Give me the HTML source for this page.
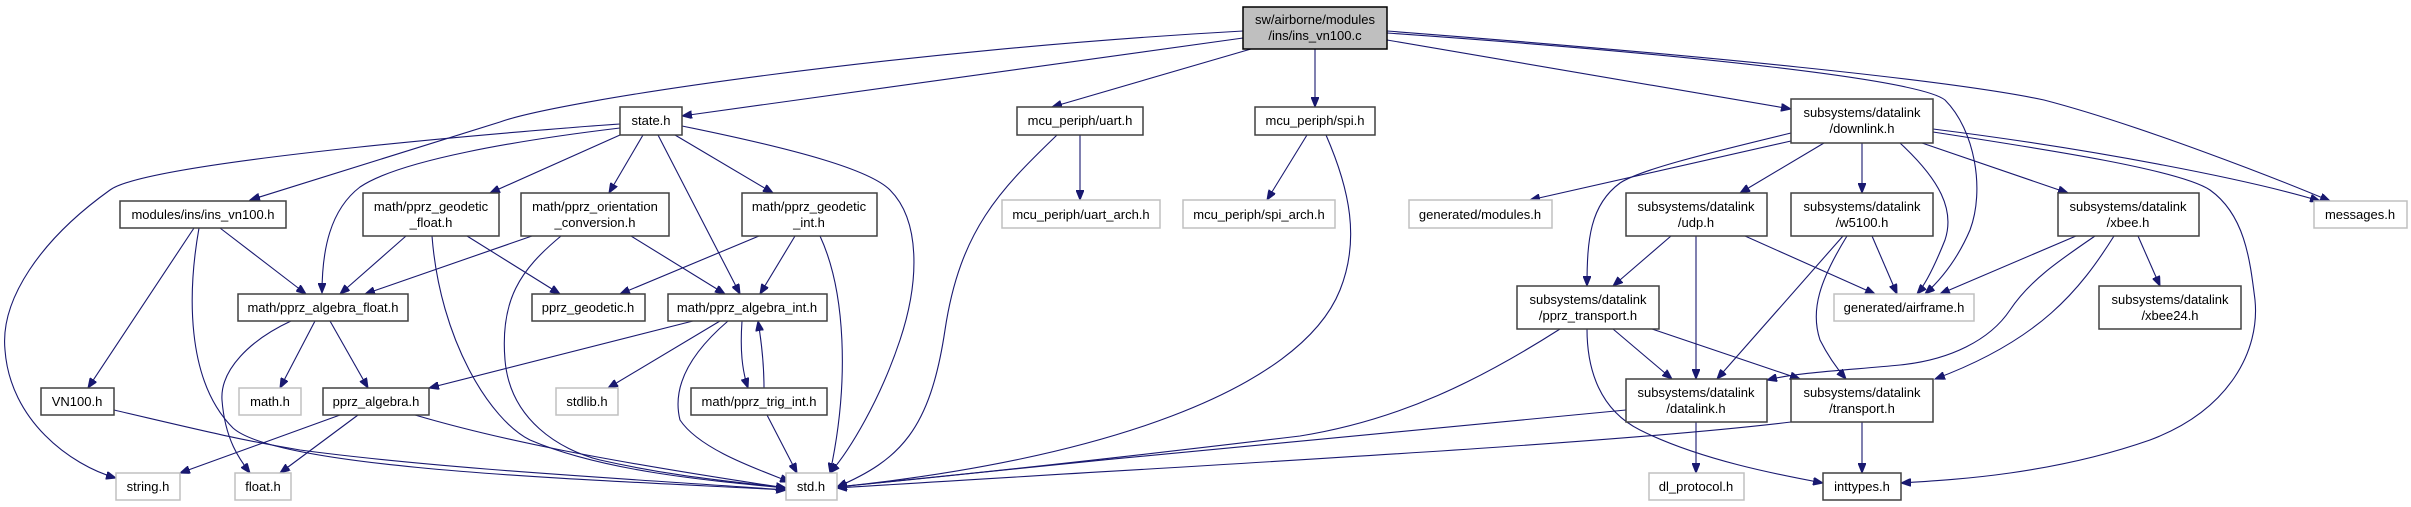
<!DOCTYPE html>
<html><head><meta charset="utf-8"><style>
html,body{margin:0;padding:0;background:#fff;}
svg{display:block;}
text{font-family:"Liberation Sans",Arial,sans-serif;font-size:13px;fill:#000;text-anchor:middle;}
.e{fill:none;stroke:#191970;stroke-width:1.1;marker-end:url(#a);}
.n{fill:#fff;stroke:#404040;stroke-width:1.5;}
.g{fill:#fff;stroke:#c0c0c0;stroke-width:1.5;}
</style></head><body>
<svg width="2411" height="507" viewBox="0 0 2411 507" xmlns="http://www.w3.org/2000/svg">
<defs><marker id="a" markerUnits="userSpaceOnUse" markerWidth="11" markerHeight="8" refX="10" refY="4" orient="auto"><path d="M0,0 L10,4 L0,8 z" fill="#191970" stroke="#191970"/></marker></defs>

<!-- edges -->
<path class="e" d="M1243,38 L682,116"/>
<path class="e" d="M1243,31 C900,50 560,100 500,122 L250,200"/>
<path class="e" d="M1251,49 L1052,107"/>
<path class="e" d="M1315,49 L1315,107"/>
<path class="e" d="M1387,40 L1791,109"/>
<path class="e" d="M1387,33 C1700,55 1920,80 1945,100 C1975,130 1985,190 1970,230 C1955,265 1935,285 1925,294"/>
<path class="e" d="M1387,31 C1700,55 1950,80 2044,100 C2140,125 2280,180 2330,201"/>

<path class="e" d="M620,124 C560,128 150,160 110,190 C40,240 0,300 5,350 C10,420 70,465 116,478"/>
<path class="e" d="M620,128 C520,140 400,160 360,187 C330,210 322,250 322,293"/>
<path class="e" d="M620,135 L490,193"/>
<path class="e" d="M643,135 L609,193"/>
<path class="e" d="M658,135 L740,294"/>
<path class="e" d="M675,135 L773,193"/>
<path class="e" d="M682,126 C800,150 870,170 890,190 C920,220 920,280 900,340 C880,400 850,450 830,473"/>

<path class="e" d="M194,228 L88,388"/>
<path class="e" d="M220,228 L306,294"/>
<path class="e" d="M199,228 C188,290 185,380 233,428 C280,470 600,480 786,490"/>
<path class="e" d="M406,236 L340,294"/>
<path class="e" d="M432,236 C440,340 490,420 530,440 C600,470 700,480 786,488"/>
<path class="e" d="M467,236 L560,294"/>
<path class="e" d="M532,236 L365,294"/>
<path class="e" d="M561,236 C520,270 500,300 505,360 C510,420 560,450 600,460 C680,478 740,482 786,488"/>
<path class="e" d="M631,236 L725,294"/>
<path class="e" d="M759,236 L620,294"/>
<path class="e" d="M795,236 L760,294"/>
<path class="e" d="M820,236 C845,290 850,380 830,473"/>
<path class="e" d="M291,321 C250,340 220,370 222,400 C225,440 240,460 250,473"/>
<path class="e" d="M315,321 L280,388"/>
<path class="e" d="M330,321 L368,388"/>
<path class="e" d="M693,321 L429,388"/>
<path class="e" d="M720,321 L608,388"/>
<path class="e" d="M742,321 C740,350 742,370 748,388"/>
<path class="e" d="M764,388 C764,370 762,345 758,321"/>
<path class="e" d="M728,321 C700,345 670,380 680,420 C700,450 760,470 790,482"/>
<path class="e" d="M767,415 L797,473"/>
<path class="e" d="M340,415 L180,473"/>
<path class="e" d="M358,415 L280,473"/>
<path class="e" d="M415,415 C500,440 600,460 786,488"/>
<path class="e" d="M114,410 C200,430 240,440 300,450 C450,470 650,480 786,490"/>

<path class="e" d="M1080,135 L1080,200"/>
<path class="e" d="M1057,135 C1000,190 960,230 945,330 C930,430 900,460 837,487"/>
<path class="e" d="M1307,135 L1267,200"/>
<path class="e" d="M1326,135 C1350,190 1360,240 1340,290 C1300,390 1100,460 837,487"/>

<path class="e" d="M1791,141 L1530,200"/>
<path class="e" d="M1791,133 C1700,155 1640,170 1620,183 C1590,205 1587,240 1587,286"/>
<path class="e" d="M1824,143 L1740,193"/>
<path class="e" d="M1862,143 L1862,193"/>
<path class="e" d="M1900,143 C1940,180 1955,210 1945,240 C1935,265 1925,285 1917,294"/>
<path class="e" d="M1922,143 L2068,193"/>
<path class="e" d="M1933,129 C2100,150 2250,180 2320,201"/>
<path class="e" d="M1933,132 C2050,150 2180,170 2210,190 C2245,215 2250,260 2255,300 C2260,350 2230,410 2150,440 C2050,475 1950,480 1901,483"/>
<path class="e" d="M1671,236 L1613,286"/>
<path class="e" d="M1696,236 L1696,379"/>
<path class="e" d="M1745,236 L1875,294"/>
<path class="e" d="M1843,236 L1717,379"/>
<path class="e" d="M1847,236 C1820,280 1810,310 1820,340 C1830,360 1840,372 1846,379"/>
<path class="e" d="M1872,236 L1897,294"/>
<path class="e" d="M2076,236 L1940,294"/>
<path class="e" d="M2095,236 C2060,260 2030,280 2010,310 C1990,340 1950,360 1900,365 C1850,370 1800,372 1767,380"/>
<path class="e" d="M2114,236 C2080,290 2040,340 1935,379"/>
<path class="e" d="M2138,236 L2160,286"/>
<path class="e" d="M1560,329 C1480,380 1400,420 1300,436 C1100,460 950,476 837,487"/>
<path class="e" d="M1613,329 L1672,379"/>
<path class="e" d="M1652,329 L1800,379"/>
<path class="e" d="M1587,329 C1587,370 1600,410 1640,430 C1700,460 1780,475 1823,483"/>
<path class="e" d="M1626,410 C1400,430 1100,460 837,487"/>
<path class="e" d="M1696,422 L1696,473"/>
<path class="e" d="M1791,422 C1600,445 1200,465 837,488"/>
<path class="e" d="M1862,422 L1862,473"/>

<!-- nodes -->
<rect x="1243" y="7" width="144" height="42" fill="#bfbfbf" stroke="#000" stroke-width="1.5"/>
<text x="1315" y="24">sw/airborne/modules</text><text x="1315" y="40">/ins/ins_vn100.c</text>

<rect class="n" x="620" y="107" width="62" height="28"/><text x="651" y="125">state.h</text>
<rect class="n" x="120" y="201" width="166" height="27"/><text x="203" y="219">modules/ins/ins_vn100.h</text>
<rect class="n" x="363" y="193" width="136" height="43"/><text x="431" y="211">math/pprz_geodetic</text><text x="431" y="227">_float.h</text>
<rect class="n" x="521" y="193" width="148" height="43"/><text x="595" y="211">math/pprz_orientation</text><text x="595" y="227">_conversion.h</text>
<rect class="n" x="742" y="193" width="135" height="43"/><text x="809" y="211">math/pprz_geodetic</text><text x="809" y="227">_int.h</text>
<rect class="n" x="238" y="294" width="170" height="27"/><text x="323" y="312">math/pprz_algebra_float.h</text>
<rect class="n" x="532" y="294" width="113" height="27"/><text x="588" y="312">pprz_geodetic.h</text>
<rect class="n" x="668" y="294" width="159" height="27"/><text x="747" y="312">math/pprz_algebra_int.h</text>
<rect class="n" x="41" y="388" width="73" height="27"/><text x="77" y="406">VN100.h</text>
<rect class="g" x="239" y="388" width="62" height="27"/><text x="270" y="406">math.h</text>
<rect class="n" x="323" y="388" width="106" height="27"/><text x="376" y="406">pprz_algebra.h</text>
<rect class="g" x="556" y="388" width="62" height="27"/><text x="587" y="406">stdlib.h</text>
<rect class="n" x="691" y="388" width="136" height="27"/><text x="759" y="406">math/pprz_trig_int.h</text>
<rect class="g" x="116" y="473" width="64" height="27"/><text x="148" y="491">string.h</text>
<rect class="g" x="235" y="473" width="56" height="27"/><text x="263" y="491">float.h</text>
<rect class="g" x="786" y="473" width="51" height="27"/><text x="811" y="491">std.h</text>

<rect class="n" x="1017" y="107" width="126" height="28"/><text x="1080" y="125">mcu_periph/uart.h</text>
<rect class="n" x="1255" y="107" width="120" height="28"/><text x="1315" y="125">mcu_periph/spi.h</text>
<rect class="g" x="1002" y="200" width="158" height="28"/><text x="1081" y="219">mcu_periph/uart_arch.h</text>
<rect class="g" x="1183" y="200" width="152" height="28"/><text x="1259" y="219">mcu_periph/spi_arch.h</text>
<rect class="g" x="1409" y="200" width="143" height="28"/><text x="1480" y="219">generated/modules.h</text>

<rect class="n" x="1791" y="99" width="142" height="44"/><text x="1862" y="117">subsystems/datalink</text><text x="1862" y="133">/downlink.h</text>
<rect class="n" x="1626" y="193" width="141" height="43"/><text x="1696" y="211">subsystems/datalink</text><text x="1696" y="227">/udp.h</text>
<rect class="n" x="1791" y="193" width="142" height="43"/><text x="1862" y="211">subsystems/datalink</text><text x="1862" y="227">/w5100.h</text>
<rect class="n" x="2058" y="193" width="141" height="43"/><text x="2128" y="211">subsystems/datalink</text><text x="2128" y="227">/xbee.h</text>
<rect class="g" x="2314" y="201" width="93" height="27"/><text x="2360" y="219">messages.h</text>
<rect class="g" x="1834" y="294" width="140" height="27"/><text x="1904" y="312">generated/airframe.h</text>
<rect class="n" x="1517" y="286" width="142" height="43"/><text x="1588" y="304">subsystems/datalink</text><text x="1588" y="320">/pprz_transport.h</text>
<rect class="n" x="2099" y="286" width="142" height="43"/><text x="2170" y="304">subsystems/datalink</text><text x="2170" y="320">/xbee24.h</text>
<rect class="n" x="1626" y="379" width="141" height="43"/><text x="1696" y="397">subsystems/datalink</text><text x="1696" y="413">/datalink.h</text>
<rect class="n" x="1791" y="379" width="142" height="43"/><text x="1862" y="397">subsystems/datalink</text><text x="1862" y="413">/transport.h</text>
<rect class="g" x="1649" y="473" width="95" height="27"/><text x="1696" y="491">dl_protocol.h</text>
<rect class="n" x="1823" y="473" width="78" height="27"/><text x="1862" y="491">inttypes.h</text>
</svg>
</body></html>
